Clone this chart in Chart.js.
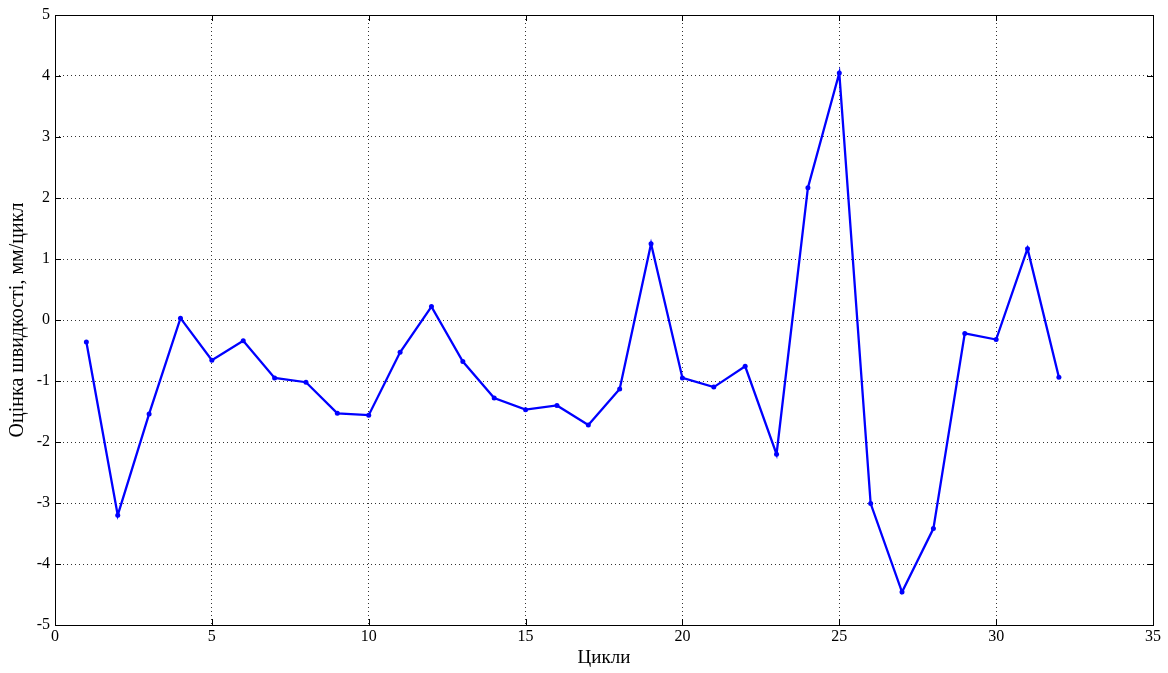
<!DOCTYPE html>
<html>
<head>
<meta charset="utf-8">
<script src="https://cdn.jsdelivr.net/npm/chart.js@4"></script>
<style>
  html, body { margin: 0; padding: 0; background: #fff; }
  #wrap { width: 1168px; height: 673px; }
</style>
</head>
<body>
<div id="wrap"><canvas id="myChart" width="1168" height="673"></canvas></div>
<script>
// cycle numbers and velocity estimates
const cycles = [1, 2, 3, 4, 5, 6, 7, 8, 9, 10, 11, 12, 13, 14, 15, 16,
                17, 18, 19, 20, 21, 22, 23, 24, 25, 26, 27, 28, 29, 30, 31, 32];
const speed = [-0.36, -3.2, -1.54, 0.03, -0.66, -0.34, -0.95, -1.02, -1.53, -1.56, -0.53, 0.22,
               -0.68, -1.28, -1.47, -1.4, -1.72, -1.13, 1.25, -0.95, -1.1, -0.76, -2.2, 2.17,
               4.05, -3.01, -4.46, -3.42, -0.22, -0.32, 1.17, -0.94];
const xTicks = [0, 5, 10, 15, 20, 25, 30, 35];
const yTicks = [-5, -4, -3, -2, -1, 0, 1, 2, 3, 4, 5];

const points = cycles.map((c, i) => ({ x: c, y: speed[i] }));

// box around the plot area plus short inward tick marks on every side
const boxPlugin = {
    id: 'box',
    afterDatasetsDraw(chart) {
        const { ctx, chartArea: a, scales } = chart;
        ctx.save();
        ctx.strokeStyle = '#000';
        ctx.lineWidth = 1;
        ctx.setLineDash([]);
        ctx.strokeRect(a.left + 0.5, a.top + 0.5, a.right - a.left, a.bottom - a.top);
        ctx.beginPath();
        xTicks.forEach(v => {
            const px = Math.round(scales.x.getPixelForValue(v)) + 0.5;
            ctx.moveTo(px, a.bottom); ctx.lineTo(px, a.bottom - 6);
            ctx.moveTo(px, a.top); ctx.lineTo(px, a.top + 6);
        });
        yTicks.forEach(v => {
            const py = Math.round(scales.y.getPixelForValue(v)) + 0.5;
            ctx.moveTo(a.left, py); ctx.lineTo(a.left + 6, py);
            ctx.moveTo(a.right, py); ctx.lineTo(a.right - 6, py);
        });
        ctx.stroke();
        ctx.restore();
    }
};

const tickFont = { family: 'Liberation Serif', size: 16 };
const titleFont = { family: 'Liberation Serif', size: 20 };

new Chart(document.getElementById('myChart'), {
    type: 'line',
    data: {
        datasets: [{
            data: points,
            borderColor: '#0000ff',
            backgroundColor: '#0000ff',
            borderWidth: 2.3,
            pointRadius: 2.5,
            pointBorderWidth: 0,
            tension: 0
        }]
    },
    options: {
        responsive: false,
        animation: false,
        layout: { padding: { top: 15, right: 15, left: 0, bottom: 0 } },
        plugins: {
            legend: { display: false },
            tooltip: { enabled: false }
        },
        scales: {
            x: {
                type: 'linear',
                min: 0,
                max: 35,
                afterBuildTicks: axis => { axis.ticks = xTicks.map(v => ({ value: v })); },
                afterFit: axis => { axis.height = 48; },
                grid: { color: '#333', lineWidth: 1, drawTicks: false },
                border: { display: false, dash: [1, 3] },
                ticks: {
                    color: '#000',
                    padding: 2,
                    font: tickFont
                },
                title: {
                    display: true,
                    text: 'Цикли',
                    color: '#000',
                    padding: { top: 0, bottom: 4 },
                    font: { family: 'Liberation Serif', size: 19 }
                }
            },
            y: {
                min: -5,
                max: 5,
                afterBuildTicks: axis => { axis.ticks = yTicks.map(v => ({ value: v })); },
                afterFit: axis => { axis.width = 55; },
                grid: { color: '#333', lineWidth: 1, drawTicks: false },
                border: { display: false, dash: [1, 3] },
                ticks: {
                    color: '#000',
                    padding: 5,
                    font: tickFont
                },
                title: {
                    display: true,
                    text: 'Оцінка швидкості, мм/цикл',
                    color: '#000',
                    padding: { top: 6, bottom: 0 },
                    font: titleFont
                }
            }
        }
    },
    plugins: [boxPlugin]
});
</script>
</body>
</html>
